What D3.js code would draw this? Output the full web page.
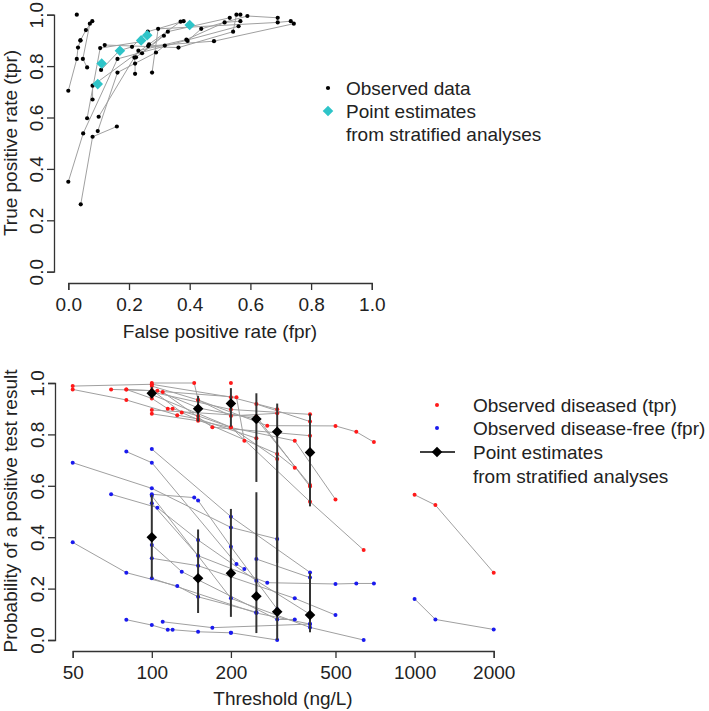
<!DOCTYPE html>
<html>
<head>
<meta charset="utf-8">
<script src="https://cdn.jsdelivr.net/npm/d3@7"></script>
<style>
  body { margin: 0; background: #fff; }
  svg { font-family: "Liberation Sans", Arial, sans-serif; }
</style>
</head>
<body>
<svg id="chart" width="709" height="711"></svg>
<script>
// per-study thresholds (ng/L) with observed tpr / fpr
const studyThresholds = [
  [1000, 1200, 2000],
  [80, 100, 115, 120, 150, 200, 300],
  [110, 170, 400],
  [50, 80, 125, 150, 250],
  [50, 100, 200, 300],
  [80, 100, 210, 225],
  [100, 200, 400],
  [70, 105, 150, 250, 400],
  [100, 145, 150, 200, 300],
  [100, 150, 275, 500, 600, 700],
  [100, 200, 400, 640],
  [100, 130, 300, 350],
  [100, 150, 350, 500],
  [100, 250, 400],
  [250, 400],
  [200]
];
const studyTpr = [
  [0.565, 0.525, 0.262],
  [0.975, 0.94, 0.90, 0.90, 0.872, 0.828, 0.704],
  [0.965, 0.828, 0.795],
  [0.975, 0.934, 0.875, 0.86, 0.785],
  [0.988, 0.995, 0.945, 0.898],
  [0.975, 0.97, 0.945, 0.775],
  [0.965, 0.897, 0.878],
  [0.975, 0.97, 0.903, 0.86, 0.603],
  [1.0, 1.0, 0.934, 0.872, 0.882],
  [0.988, 0.934, 0.834, 0.833, 0.81, 0.77],
  [0.955, 0.828, 0.538, 0.35],
  [0.973, 0.885, 0.724, 0.67],
  [0.88, 0.853, 0.775, 0.547],
  [0.895, 0.87, 0.597],
  [0.918, 0.85],
  [1.0]
];
const studyFpr = [
  [0.16, 0.08, 0.041],
  [0.079, 0.058, 0.04, 0.04, 0.032, 0.028, 0.0],
  [0.071, 0.048, 0.062],
  [0.38, 0.262, 0.21, 0.168, 0.108],
  [0.69, 0.59, 0.438, 0.393],
  [0.733, 0.69, 0.296, 0.276],
  [0.743, 0.48, 0.263],
  [0.567, 0.515, 0.389, 0.231, 0.10],
  [0.567, 0.554, 0.543, 0.363, 0.12],
  [0.532, 0.328, 0.223, 0.218, 0.22, 0.22],
  [0.561, 0.162, 0.049, 0.0],
  [0.37, 0.266, 0.08, 0.08],
  [0.318, 0.289, 0.162, 0.097],
  [0.24, 0.105, 0.062],
  [0.315, 0.243],
  [0.028]
];

// stratified point estimates with intervals
const estThreshold = [100, 150, 200, 250, 300, 400];
const estTpr   = [0.96, 0.90, 0.92, 0.86, 0.81, 0.73];
const estTprLo = [0.94, 0.85, 0.83, 0.615, 0.30, 0.52];
const estTprHi = [0.985, 0.95, 0.98, 0.96, 0.92, 0.88];
const estFpr   = [0.40, 0.24, 0.26, 0.17, 0.11, 0.097];
const estFprLo = [0.24, 0.105, 0.09, 0.027, 0.0, 0.03];
const estFprHi = [0.565, 0.43, 0.51, 0.575, 0.72, 0.26];

const rateTicks = [0, 0.2, 0.4, 0.6, 0.8, 1.0];
const thresholdTicks = [50, 100, 200, 500, 1000, 2000];

const svg = d3.select("#chart");
const FONT = 19;
const lineCol = "#a0a0a0";
const cyan = "#2ec4c8";
const diamond = d3.symbol().type(d3.symbolSquare).size(56);

// R-like axis styling
function styleAxis(g) {
  g.selectAll("path.domain").attr("stroke", "#333").attr("stroke-width", 1.3);
  g.selectAll(".tick line").attr("stroke", "#333").attr("stroke-width", 1.3);
  g.selectAll(".tick text").attr("fill", "#222").style("font-size", FONT + "px");
}
function rotateYLabels(g) {
  g.selectAll(".tick text")
    .attr("x", null).attr("dy", null)
    .attr("text-anchor", "middle")
    .attr("transform", "translate(-11,0) rotate(-90)");
}

// ---------- top panel: ROC space ----------
const xTop = d3.scaleLinear().domain([0, 1]).range([68.3, 371.8]);
const yTop = d3.scaleLinear().domain([0, 1]).range([271.7, 14.7]);

const gx1 = svg.append("g").attr("transform", "translate(0,283)")
  .call(d3.axisBottom(xTop).tickValues(rateTicks).tickFormat(d3.format(".1f"))
    .tickSizeOuter(0).tickSize(7).tickPadding(8));
styleAxis(gx1);
const gy1 = svg.append("g").attr("transform", "translate(54,0)")
  .call(d3.axisLeft(yTop).tickValues(rateTicks).tickFormat(d3.format(".1f"))
    .tickSizeOuter(0).tickSize(7));
styleAxis(gy1);
rotateYLabels(gy1);

svg.append("text").attr("x", 220).attr("y", 338).attr("text-anchor", "middle")
  .style("font-size", FONT + "px").attr("fill", "#222").text("False positive rate (fpr)");
svg.append("text").attr("transform", "translate(17,143) rotate(-90)").attr("text-anchor", "middle")
  .style("font-size", FONT + "px").attr("fill", "#222").text("True positive rate (tpr)");

const rocLine = d3.line().x(d => xTop(d[0])).y(d => yTop(d[1]));
studyFpr.forEach((fs, i) => {
  const pts = fs.map((f, j) => [f, studyTpr[i][j]]);
  svg.append("path").attr("d", rocLine(pts)).attr("fill", "none")
    .attr("stroke", lineCol).attr("stroke-width", 1);
});
studyFpr.forEach((fs, i) => {
  fs.forEach((f, j) => {
    svg.append("circle").attr("cx", xTop(f)).attr("cy", yTop(studyTpr[i][j]))
      .attr("r", 2.1).attr("fill", "#000");
  });
});
estFpr.forEach((f, i) => {
  svg.append("path").attr("d", diamond)
    .attr("transform", `translate(${xTop(f)},${yTop(estTpr[i])}) rotate(45)`)
    .attr("fill", cyan);
});

// top legend
svg.append("circle").attr("cx", 328).attr("cy", 88).attr("r", 2.1).attr("fill", "#000");
svg.append("path").attr("d", diamond).attr("transform", "translate(328,111) rotate(45)").attr("fill", cyan);
[["Observed data", 88], ["Point estimates", 111], ["from stratified analyses", 134]].forEach(([t, y]) => {
  svg.append("text").attr("x", 346).attr("y", y).attr("dy", "0.36em")
    .style("font-size", FONT + "px").attr("fill", "#222").text(t);
});

// ---------- bottom panel: probability vs threshold ----------
const xBot = d3.scaleLog().domain([50, 2000]).range([72.7, 493.7]);
const yBot = d3.scaleLinear().domain([0, 1]).range([640, 383]);

const gx2 = svg.append("g").attr("transform", "translate(0,651)")
  .call(d3.axisBottom(xBot).tickValues(thresholdTicks).tickFormat(d3.format("d"))
    .tickSizeOuter(0).tickSize(7).tickPadding(8));
styleAxis(gx2);
const gy2 = svg.append("g").attr("transform", "translate(55,0)")
  .call(d3.axisLeft(yBot).tickValues(rateTicks).tickFormat(d3.format(".1f"))
    .tickSizeOuter(0).tickSize(7));
styleAxis(gy2);
rotateYLabels(gy2);

svg.append("text").attr("x", 283).attr("y", 705).attr("text-anchor", "middle")
  .style("font-size", FONT + "px").attr("fill", "#222").text("Threshold (ng/L)");
svg.append("text").attr("transform", "translate(17,511) rotate(-90)").attr("text-anchor", "middle")
  .style("font-size", FONT + "px").attr("fill", "#222").text("Probability of a positive test result");

const thrLine = d3.line().x(d => xBot(d[0])).y(d => yBot(d[1]));
[studyTpr, studyFpr].forEach(series => {
  series.forEach((vals, i) => {
    const pts = vals.map((v, j) => [studyThresholds[i][j], v]);
    svg.append("path").attr("d", thrLine(pts)).attr("fill", "none")
      .attr("stroke", lineCol).attr("stroke-width", 1);
  });
});
[[studyTpr, "#ff1a1a"], [studyFpr, "#1a1aee"]].forEach(([series, col]) => {
  series.forEach((vals, i) => {
    vals.forEach((v, j) => {
      svg.append("circle").attr("cx", xBot(studyThresholds[i][j])).attr("cy", yBot(v))
        .attr("r", 2).attr("fill", col);
    });
  });
});

// interval bars and estimates
estThreshold.forEach((t, i) => {
  [[estTprLo[i], estTprHi[i]], [estFprLo[i], estFprHi[i]]].forEach(([lo, hi]) => {
    svg.append("line").attr("x1", xBot(t)).attr("x2", xBot(t))
      .attr("y1", yBot(lo)).attr("y2", yBot(hi))
      .attr("stroke", "#333").attr("stroke-width", 2);
  });
  [estTpr[i], estFpr[i]].forEach(v => {
    svg.append("path").attr("d", diamond)
      .attr("transform", `translate(${xBot(t)},${yBot(v)}) rotate(45)`)
      .attr("fill", "#000");
  });
});

// bottom legend
svg.append("circle").attr("cx", 437).attr("cy", 405).attr("r", 2).attr("fill", "#ff1a1a");
svg.append("circle").attr("cx", 437).attr("cy", 428).attr("r", 2).attr("fill", "#1a1aee");
svg.append("line").attr("x1", 420).attr("x2", 455).attr("y1", 452).attr("y2", 452)
  .attr("stroke", "#000").attr("stroke-width", 1.3);
svg.append("path").attr("d", diamond).attr("transform", "translate(437,452) rotate(45)").attr("fill", "#000");
[["Observed diseased (tpr)", 405], ["Observed disease-free (fpr)", 428],
 ["Point estimates", 452], ["from stratified analyses", 476]].forEach(([t, y]) => {
  svg.append("text").attr("x", 473).attr("y", y).attr("dy", "0.36em")
    .style("font-size", FONT + "px").attr("fill", "#222").text(t);
});
</script>
</body>
</html>
